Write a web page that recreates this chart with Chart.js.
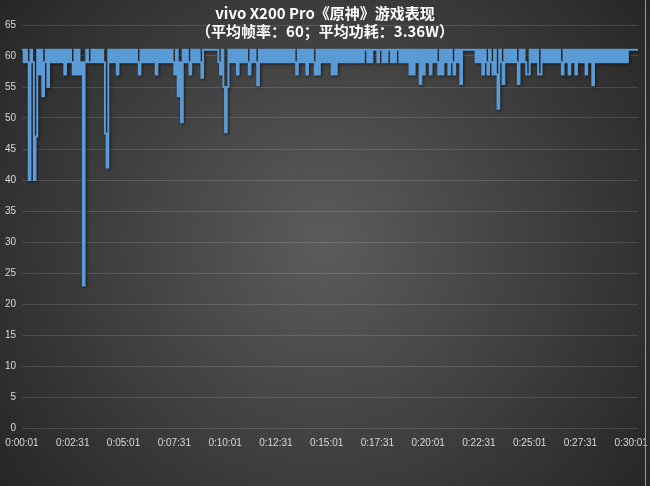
<!DOCTYPE html>
<html>
<head>
<meta charset="utf-8">
<script src="https://cdn.jsdelivr.net/npm/chart.js@4"></script>
<style>
    html, body { margin: 0; padding: 0; background: #2a2a2a; }
    #wrap { width: 650px; height: 486px; position: relative; }
</style>
</head>
<body>
<div id="wrap"><canvas id="fpsChart" width="650" height="486"></canvas></div>
<script>
// title lines
const titleLines = ["vivo X200 Pro《原神》游戏表现", "（平均帧率：60；平均功耗：3.36W）"];

// frame rate, one sample every 5 seconds starting at 0:00:01
const fps = [
    61, 59, 61, 59, 40, 61, 59, 40, 47, 61, 57, 61, 53.5, 59, 61, 55, 61, 59, 61, 59,
    61, 59, 61, 59, 61, 57, 61, 59, 61, 59, 57, 61, 57, 61, 57, 59, 23, 59, 61, 59,
    59, 61, 59, 61, 59, 61, 59, 61, 59, 47.5, 42, 61, 59, 61, 59, 61, 57, 61, 59, 61,
    59, 61, 59, 61, 59, 61, 59, 61, 59, 57, 61, 59, 61, 59, 61, 59, 61, 59, 61, 57,
    61, 59, 61, 59, 61, 59, 61, 59, 61, 59, 57, 61, 53.5, 59, 49.3, 61, 59, 61, 59, 57,
    61, 59, 61, 59, 61, 59, 56.5, 61, 61, 61, 61, 61, 61, 61, 61, 61, 59, 57, 61, 55,
    47.7, 55, 61, 59, 61, 59, 61, 57, 61, 59, 61, 59, 61, 59, 57, 61, 59, 61, 59, 55.3,
    61, 59, 61, 59, 61, 59, 61, 59, 61, 59, 61, 59, 61, 59, 61, 59, 61, 59, 61, 59,
    61, 59, 57, 61, 59, 61, 59, 61, 57, 61, 59, 61, 59, 57, 61, 57, 61, 59, 61, 59,
    61, 59, 61, 57, 61, 57, 61, 59, 61, 59, 61, 59, 61, 59, 61, 59, 61, 59, 61, 59,
    61, 59, 61, 61, 59, 61, 59, 61, 61, 61, 59, 61, 61, 59, 61, 59, 61, 61, 59, 61,
    59, 61, 61, 59, 61, 59, 61, 59, 61, 57, 61, 57, 61, 59, 61, 55.5, 61, 57, 61, 59,
    61, 57, 61, 59, 61, 59, 57, 61, 57, 61, 59, 61, 57, 61, 59, 57, 61, 59, 61, 55.5,
    61, 61, 61, 61, 61, 61, 61, 61, 59, 61, 59, 61, 57, 61, 59, 57, 61, 59, 57, 61,
    57, 51.5, 61, 59, 55.5, 61, 59, 61, 59, 61, 59, 61, 59, 55.5, 61, 59, 61, 59, 57, 57,
    61, 59, 61, 59, 61, 57, 57, 61, 59, 61, 59, 61, 59, 61, 59, 61, 59, 61, 59, 57,
    61, 59, 61, 57, 61, 59, 61, 57, 61, 59, 61, 59, 61, 57, 61, 59, 61, 55.3, 61, 59,
    61, 59, 61, 59, 61, 59, 61, 59, 61, 59, 61, 59, 61, 59, 61, 59, 61, 59, 61, 61,
    61, 61, 61, 61, 61
];

// x tick labels shown every 2:30
const tickLabels = ["0:00:01", "0:02:31", "0:05:01", "0:07:31", "0:10:01", "0:12:31", "0:15:01",
    "0:17:31", "0:20:01", "0:22:31", "0:25:01", "0:27:31", "0:30:01"];

// categories: time stamp of each sample
const times = fps.map((v, i) => {
    const s = 1 + i * 5;
    const m = Math.floor(s / 60);
    const sec = s % 60;
    return "0:" + String(m).padStart(2, "0") + ":" + String(sec).padStart(2, "0");
});

// dark radial background + title
const bgPlugin = {
    id: "bg",
    beforeDraw(chart) {
        const ctx = chart.ctx;
        const w = chart.width, h = chart.height;
        ctx.save();
        const g = ctx.createRadialGradient(w / 2, h / 2, 0, w / 2, h / 2, 420);
        g.addColorStop(0, "#5c5c5c");
        g.addColorStop(1, "#242424");
        ctx.fillStyle = g;
        ctx.fillRect(0, 0, w, h);
        ctx.restore();
    },
    afterDraw(chart) {
        const ctx = chart.ctx;
        ctx.save();
        ctx.fillStyle = "#ffffff";
        ctx.textAlign = "center";
        ctx.textBaseline = "middle";
        ctx.font = "bold 15px 'Noto Sans CJK SC', 'Noto Sans', sans-serif";
        ctx.fillText(titleLines[0], 325, 13);
        ctx.fillText(titleLines[1], 325, 31);
        ctx.strokeStyle = "#9a9a9a";
        ctx.lineWidth = 1;
        ctx.beginPath();
        ctx.moveTo(645.5, 0);
        ctx.lineTo(645.5, 486);
        ctx.stroke();
        ctx.restore();
    }
};

// soft shadow under the line
const shadowPlugin = {
    id: "lineShadow",
    beforeDatasetsDraw(chart) {
        const ctx = chart.ctx;
        ctx.save();
        ctx.shadowColor = "rgba(0,0,0,0.6)";
        ctx.shadowBlur = 3;
        ctx.shadowOffsetX = 1;
        ctx.shadowOffsetY = 1;
    },
    afterDatasetsDraw(chart) {
        chart.ctx.restore();
    }
};

new Chart(document.getElementById("fpsChart"), {
    type: "line",
    data: {
        labels: times,
        datasets: [{
            label: "FPS",
            data: fps,
            borderColor: "#5b9bd5",
            borderWidth: 2,
            pointRadius: 0,
            stepped: true,
            fill: false
        }]
    },
    options: {
        responsive: false,
        animation: false,
        devicePixelRatio: 1,
        layout: { padding: { top: 25, right: 12, left: 0, bottom: 0 } },
        plugins: {
            legend: { display: false },
            title: { display: false },
            tooltip: { enabled: false }
        },
        scales: {
            x: {
                grid: { display: false, drawTicks: false },
                border: { display: false },
                ticks: {
                    autoSkip: false,
                    maxRotation: 0,
                    padding: 9,
                    color: "#d9d9d9",
                    font: { family: "'Liberation Sans', Arial, sans-serif", size: 10 },
                    callback: function (val, idx) {
                        return idx % 30 === 0 ? tickLabels[idx / 30] : null;
                    }
                },
                afterFit: s => {
                    s.height = 58;
                    s.paddingLeft = 0;
                    s.paddingRight = 0;
                }
            },
            y: {
                min: 0,
                max: 65,
                grid: { color: "rgba(255,255,255,0.13)", drawTicks: false },
                border: { display: false },
                ticks: {
                    stepSize: 5,
                    padding: 6,
                    color: "#d9d9d9",
                    font: { family: "'Liberation Sans', Arial, sans-serif", size: 10 }
                },
                afterFit: s => { s.width = 22; }
            }
        }
    },
    plugins: [bgPlugin, shadowPlugin]
});
</script>
</body>
</html>
